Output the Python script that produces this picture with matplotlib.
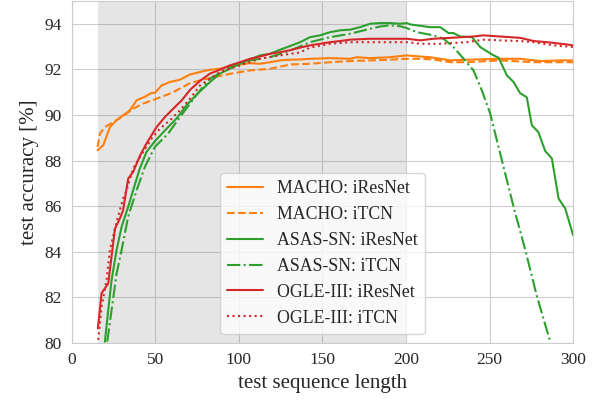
import numpy as np
import matplotlib.pyplot as plt
import seaborn as sns

# values
macho_res_x = [15.5, 18.9, 22.9, 26.9, 30.8, 34.8, 38.9, 43.8, 47.8, 49.8, 53.8, 58.8, 64.8, 70.8, 76.8,
               82.8, 88.7, 94.7, 100.7, 106.7, 112.7, 118.7, 124.7, 130.7, 136.7, 142.6, 154.6, 166.6,
               170.6, 178.6, 190.5, 200.5, 208.5, 214.5, 226.5, 236.4, 256.4, 268.4, 280.4, 292.3, 300]
macho_res_y = [88.45, 88.67, 89.47, 89.77, 89.99, 90.2, 90.65, 90.8, 90.97, 90.97, 91.3, 91.45, 91.55, 91.78, 91.89,
               91.99, 92.03, 92.14, 92.22, 92.28, 92.25, 92.32, 92.4, 92.43, 92.44, 92.47, 92.5, 92.47,
               92.54, 92.5, 92.54, 92.62, 92.57, 92.54, 92.4, 92.43, 92.47, 92.47, 92.37, 92.4, 92.4]

macho_tcn_x = [15.5, 16.9, 19.9, 24.9, 30.8, 36.8, 42.8, 50.8, 58.8, 64.8, 70.8, 76.8, 82.8, 94.7, 106.7,
               118.7, 130.7, 142.6, 154.6, 166.6, 178.6, 190.5, 200.5, 208.5, 216.5, 226.5, 236.4, 256.4,
               276.4, 300]
macho_tcn_y = [88.6, 89.18, 89.47, 89.69, 89.95, 90.28, 90.5, 90.72, 90.94, 91.16, 91.4, 91.52, 91.62, 91.81, 91.96,
               92.03, 92.22, 92.25, 92.32, 92.37, 92.4, 92.43, 92.47, 92.47, 92.44, 92.32, 92.32, 92.4,
               92.32, 92.32]

asas_res_x = [19.9, 21.9, 23.9, 26.9, 29.9, 33.8, 36.8, 40.8, 44.8, 49.8, 56.8, 62.8, 68.7, 74.8, 82.8,
              88.7, 100.7, 112.7, 118.7, 124.7, 130.7, 136.7, 142.6, 148.6, 154.6, 160.6, 166.6, 172.6,
              178.6, 184.6, 190.5, 196.5, 200.5, 202.5, 214.5, 220.5, 225.5, 228.5, 232.5, 239.5, 244.5,
              252.4, 255.4, 260.4, 264.4, 268.3, 272.3, 275.3, 279.2, 283.3, 287.3, 291.3, 295.3, 300]
asas_res_y = [80.04, 81.43, 82.75, 84.07, 85.09, 85.96, 86.7, 87.65, 88.38, 88.85, 89.4, 89.85, 90.43, 90.9, 91.45,
              91.82, 92.25, 92.62, 92.69, 92.87, 93.03, 93.2, 93.42, 93.5, 93.64, 93.72, 93.75, 93.86,
              94.01, 94.04, 94.04, 94.01, 94.04, 93.98, 93.86, 93.86, 93.6, 93.6, 93.45, 93.42, 92.98,
              92.62, 92.52, 91.74, 91.45, 90.96, 90.78, 89.55, 89.25, 88.42, 88.09, 86.33, 85.89, 84.72]

asas_tcn_x = [21.3, 23.9, 26.9, 29.9, 33.8, 38.9, 43.8, 49.8, 57.7, 64.8, 70.8, 76.8, 82.8, 94.7, 106.7,
              118.7, 130.7, 142.6, 154.6, 166.6, 178.6, 184.6, 190.5, 196.5, 200.5, 206.5, 216.5, 222.5,
              228.5, 234.5, 240.4, 245.4, 250.4, 257.4, 264.4, 271.4, 278.4, 286.3]
asas_tcn_y = [80.04, 81.43, 83.04, 84.07, 85.53, 86.7, 87.72, 88.6, 89.18, 89.91, 90.5, 91.08, 91.6, 92.1, 92.4,
              92.54, 92.83, 93.2, 93.42, 93.57, 93.79, 93.89, 93.94, 93.9, 93.82, 93.64, 93.5, 93.35,
              92.98, 92.47, 91.96, 91.08, 90.06, 88.01, 85.96, 84.07, 82.02, 80.04]

ogle_res_x = [15.7, 17.9, 21.9, 25.9, 28.9, 30.8, 33.8, 36.8, 40.8, 44.8, 50.8, 55.8, 60.8, 65.8, 70.8,
              76.8, 82.8, 88.7, 94.7, 100.7, 106.7, 112.7, 118.7, 124.7, 130.7, 136.7, 142.6, 148.6,
              154.6, 160.6, 166.6, 178.6, 190.5, 200.5, 208.5, 216.5, 226.5, 240.4, 246.4, 256.4, 268.4,
              276.4, 284.4, 296.3, 300]
ogle_res_y = [80.63, 82.17, 82.6, 85.0, 85.46, 85.82, 87.2, 87.5, 88.2, 88.75, 89.47, 89.91, 90.28, 90.64, 91.1,
              91.5, 91.82, 91.99, 92.18, 92.32, 92.47, 92.57, 92.69, 92.76, 92.85, 92.96, 93.06, 93.13,
              93.2, 93.25, 93.31, 93.35, 93.35, 93.35, 93.28, 93.35, 93.39, 93.45, 93.5, 93.45, 93.39,
              93.25, 93.2, 93.1, 93.06]

ogle_tcn_x = [15.9, 17.9, 20.9, 22.9, 26.9, 30.8, 32.9, 36.8, 42.8, 47.8, 52.8, 58.8, 64.8, 70.8, 76.8,
              88.7, 100.7, 112.7, 124.7, 136.7, 142.6, 154.6, 166.6, 178.6, 190.5, 200.5, 208.5, 220.5,
              236.4, 246.4, 256.4, 268.4, 276.4, 288.4, 300]
ogle_tcn_y = [80.12, 81.58, 82.75, 84.07, 85.3, 86.33, 86.7, 87.65, 88.38, 88.96, 89.4, 89.77, 90.21, 90.72, 91.3,
              91.89, 92.18, 92.47, 92.62, 92.75, 92.96, 93.13, 93.2, 93.2, 93.2, 93.2, 93.13, 93.13,
              93.2, 93.31, 93.28, 93.25, 93.2, 93.06, 92.99]

sns.set_style('whitegrid')
plt.rcParams['font.family'] = ['Liberation Serif', 'DejaVu Serif']

fig, ax = plt.subplots(figsize=(6.02, 4.04), dpi=100)
fig.subplots_adjust(left=0.119, right=0.952, bottom=0.152, top=0.997)

ax.axvspan(15.5, 200, color='gray', alpha=0.2, lw=0, zorder=1.5)

ax.plot(macho_res_x, macho_res_y, color='tab:orange', ls='-', lw=1.5, label='MACHO: iResNet', zorder=3)
ax.plot(macho_tcn_x, macho_tcn_y, color='tab:orange', ls='--', lw=1.5, label='MACHO: iTCN', zorder=3)
ax.plot(asas_res_x, asas_res_y, color='tab:green', ls='-', lw=1.5, label='ASAS-SN: iResNet', zorder=3)
ax.plot(asas_tcn_x, asas_tcn_y, color='tab:green', ls='-.', lw=1.5, label='ASAS-SN: iTCN', zorder=3)
ax.plot(ogle_res_x, ogle_res_y, color='tab:red', ls='-', lw=1.5, label='OGLE-III: iResNet', zorder=3)
ax.plot(ogle_tcn_x, ogle_tcn_y, color='tab:red', ls=':', lw=1.5, label='OGLE-III: iTCN', zorder=3)

ax.set_xlim(0, 300)
ax.set_ylim(80, 95)
ax.set_yticks([80, 82, 84, 86, 88, 90, 92, 94])
ax.tick_params(labelsize=12.5)
ax.set_xlabel('test sequence length', fontsize=15)
ax.set_ylabel('test accuracy [%]', fontsize=15)
ax.legend(loc='lower center', fontsize=12.8)

plt.savefig('out.png')
